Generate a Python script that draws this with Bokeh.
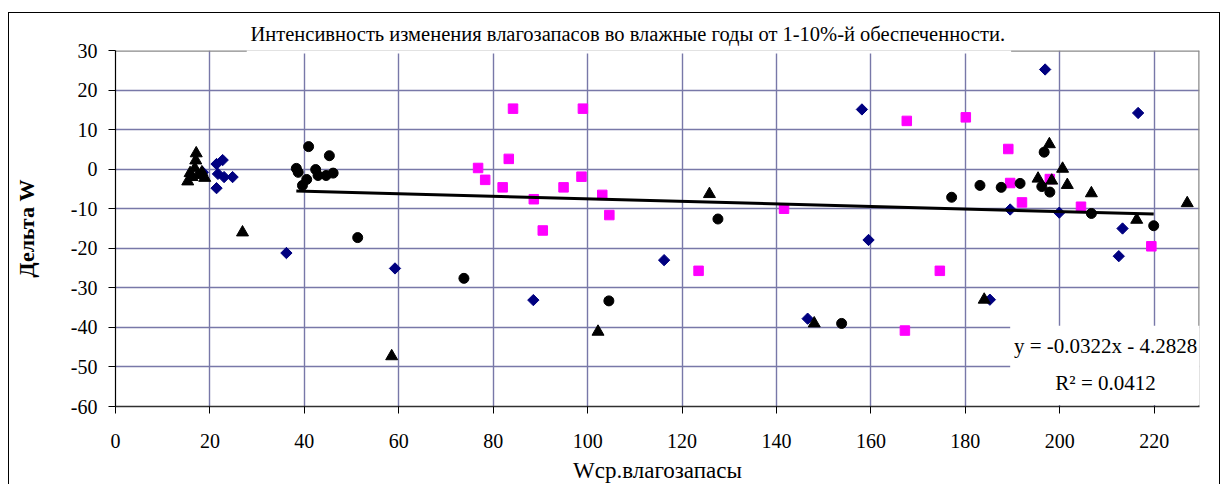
from bokeh.plotting import figure
from bokeh.models import Range1d, FixedTicker, BoxAnnotation, Label
from bokeh.embed import file_html
from bokeh.resources import INLINE

title_text = "Интенсивность изменения влагозапасов во влажные годы от 1-10%-й обеспеченности."
x_title = "Wср.влагозапасы"
y_title = "Дельта W"
x_ticks = [0, 20, 40, 60, 80, 100, 120, 140, 160, 180, 200, 220]
y_ticks = [-60, -50, -40, -30, -20, -10, 0, 10, 20, 30]

diam_x = [18.5, 21.4, 22.7, 21.7, 23.0, 24.8, 21.4, 36.2, 59.2, 88.5, 116.2, 146.6,
          158.1, 159.5, 185.2, 189.5, 196.9, 199.9, 212.5, 213.3, 216.6]
diam_y = [-0.8, 1.3, 2.3, -1.2, -2.0, -2.0, -4.8, -21.2, -25.1, -33.1, -23.0, -37.8,
          15.1, -17.9, -33.0, -10.2, 25.2, -11.0, -22.0, -15.0, 14.2]

sq_x = [76.8, 78.3, 82.0, 83.3, 84.2, 88.6, 90.5, 94.9, 98.7, 99.0, 103.1, 104.6,
        123.5, 141.6, 167.2, 167.6, 174.6, 180.1, 189.1, 189.5, 192.0, 197.9, 204.5, 219.4]
sq_y = [0.3, -2.7, -4.6, 2.6, 15.3, -7.6, -15.5, -4.6, -1.9, 15.3, -6.5, -11.6,
        -25.7, -10.0, -40.8, 12.2, -25.7, 13.1, 5.1, -3.5, -8.4, -2.5, -9.5, -19.5]

tri_x = [15.3, 15.8, 16.2, 16.8, 17.0, 17.1, 17.5, 18.3, 18.9, 26.9, 58.5, 102.2,
         125.8, 148.0, 184.0, 195.4, 197.8, 198.3, 200.6, 201.6, 206.7, 216.3, 227.0]
tri_y = [-3.1, -1.0, -2.0, 0.2, 2.2, 4.0, -1.5, -0.8, -2.2, -16.0, -47.3, -41.1,
         -6.3, -39.0, -33.0, -2.4, 6.3, -2.9, 0.1, -4.0, -6.1, -12.8, -8.6]

circ_x = [38.3, 38.7, 39.6, 40.5, 40.9, 42.4, 42.9, 44.6, 45.3, 46.1, 51.3, 73.8,
          104.5, 127.6, 153.8, 177.1, 183.1, 187.6, 191.6, 196.2, 196.7, 197.9, 206.7, 219.9]
circ_y = [0.2, -0.8, -4.1, -2.6, 5.7, -0.1, -1.6, -1.6, 3.4, -1.0, -17.3, -27.6,
          -33.3, -12.6, -39.0, -7.1, -4.1, -4.6, -3.6, -4.4, 4.3, -5.8, -11.2, -14.3]

trend_slope = -0.0322
trend_intercept = -4.2828

X_MAX = 229.6
FONT = "Liberation Serif"
GRID = "#7878A8"
EDGE = "#8A8A8A"

p = figure(width=1212, height=472, output_backend="svg", toolbar_location=None,
           x_range=Range1d(0, X_MAX), y_range=Range1d(y_ticks[0], y_ticks[-1]),
           min_border_left=106, min_border_right=22, min_border_top=37, min_border_bottom=79,
           margin=(12, 0, 0, 8),
           styles={"border-left": "1px solid black", "border-top": "1px solid black",
                   "border-right": "1px solid black"})
p.background_fill_color = "white"
p.border_fill_color = "white"
p.outline_line_color = None

# title
p.title.text = title_text
p.title.align = "left"
p.title.offset = 135
p.title.text_font = FONT
p.title.text_font_size = "20.5px"
p.title.text_font_style = "normal"
p.title.text_color = "black"
p.title.standoff = 11

p.xaxis.ticker = FixedTicker(ticks=x_ticks)
p.yaxis.ticker = FixedTicker(ticks=y_ticks)
p.yaxis.major_label_overrides = {t: str(t) for t in y_ticks}
for g in (p.xgrid, p.ygrid):
    g.grid_line_color = GRID
    g.grid_line_width = 1.4

for ax in (p.xaxis, p.yaxis):
    ax.major_tick_out = 7
    ax.major_tick_in = 0
    ax.minor_tick_line_color = None
    ax.major_tick_line_color = "black"
    ax.major_label_text_font = FONT
    ax.major_label_text_font_size = "20px"
    ax.major_label_text_color = "black"
    ax.axis_label_text_font = FONT
    ax.axis_label_text_color = "black"
p.xaxis.axis_line_color = "#303030"
p.xaxis.axis_line_width = 1.6
p.yaxis.axis_line_color = "black"
p.yaxis.axis_line_width = 1.2
p.xaxis.major_label_standoff = 20
p.yaxis.major_label_standoff = 11
p.xaxis.axis_label = x_title
p.xaxis.axis_label_text_font_size = "23px"
p.xaxis.axis_label_text_font_style = "normal"
p.xaxis.axis_label_standoff = 7
p.yaxis.axis_label = y_title
p.yaxis.axis_label_text_font_size = "22px"
p.yaxis.axis_label_text_font_style = "bold"
p.yaxis.axis_label_standoff = 29

# frame edges (top and right, grey)
p.line([0, X_MAX], [y_ticks[-1], y_ticks[-1]], line_color=EDGE, line_width=2.5)
p.line([X_MAX, X_MAX], [y_ticks[0], y_ticks[-1]], line_color=EDGE, line_width=2.5)

p.scatter(diam_x, diam_y, marker="square", angle=0.785398, size=8,
          fill_color="#000080", line_color="#000080")
p.scatter(sq_x, sq_y, marker="square", size=9.5, fill_color="#FF00FF", line_color="#FF00FF")
p.scatter(tri_x, tri_y, marker="triangle", size=12, fill_color="black", line_color="black")
p.scatter(circ_x, circ_y, marker="circle", size=10, fill_color="black", line_color="black")

tx = [min(circ_x), max(circ_x)]
ty = [trend_slope * v + trend_intercept for v in tx]
p.line(tx, ty, line_color="black", line_width=3)

# white strip where the title box overlaps the plot area
p.add_layout(BoxAnnotation(left=27.8, right=189.7, top=30.5, bottom=29.25,
                           fill_color="white", fill_alpha=1, line_color=None))

# equation box
p.add_layout(BoxAnnotation(left=189.5, right=X_MAX + 1, top=-39.6, bottom=-59.6,
                           fill_color="white", fill_alpha=1, line_color=None))
p.add_layout(Label(x=209.7, y=-44.6, text="y = -0.0322x - 4.2828", text_align="center",
                   text_baseline="middle", text_font=FONT, text_font_size="21px",
                   text_color="black"))
p.add_layout(Label(x=209.7, y=-54.0, text="R² = 0.0412", text_align="center",
                   text_baseline="middle", text_font=FONT, text_font_size="21px",
                   text_color="black"))

open("out.html", "w").write(file_html(p, INLINE))
